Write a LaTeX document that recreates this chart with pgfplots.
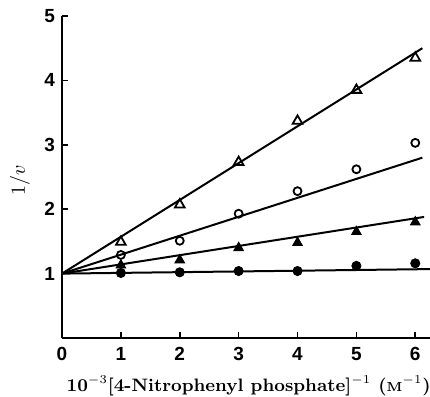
\documentclass[border=0pt]{standalone}
\usepackage{fontspec}
\setsansfont{Liberation Sans}
\usepackage{pgfplots}
\pgfplotsset{compat=1.18}
\begin{document}
\begin{tikzpicture}
\begin{axis}[
  scale only axis,
  width=184pt, height=161pt,
  xmin=0, xmax=6.25, ymin=0, ymax=5,
  axis x line=bottom, axis y line=left,
  axis line style={-, line width=1pt},
  tick align=inside,
  major tick length=3pt,
  tick style={line width=0.8pt, black},
  xtick={0,1,2,3,4,5,6},
  ytick={1,2,3,4,5},
  /pgf/number format/assume math mode=true,
  ticklabel style={font=\sffamily\bfseries\fontsize{9.5}{11}\selectfont},
  xticklabel style={yshift=-1pt},
  clip=false,
]
% fitted lines
\addplot[black, line width=1pt] coordinates {(0,1) (6.12,4.50)};
\addplot[black, line width=1pt] coordinates {(0,1) (6.12,2.80)};
\addplot[black, line width=1pt] coordinates {(0,1) (6.15,1.88)};
\addplot[black, line width=1pt] coordinates {(0,1) (6.25,1.07)};
% data
\addplot[only marks, mark=triangle, mark size=2.8pt, mark options={line width=0.9pt}] coordinates {(1,1.49) (2,2.07) (3,2.73) (4,3.37) (5,3.85) (6,4.35)};
\addplot[only marks, mark=o, mark size=2pt, mark options={line width=0.9pt}] coordinates {(1,1.29) (2,1.51) (3,1.93) (4,2.28) (5,2.62) (6,3.03)};
\addplot[only marks, mark=triangle*, mark size=2.8pt] coordinates {(1,1.13) (2,1.21) (3,1.40) (4,1.48) (5,1.65) (6,1.80)};
\addplot[only marks, mark=*, mark size=2.3pt] coordinates {(1,1.01) (2,1.02) (3,1.04) (4,1.04) (5,1.12) (6,1.16)};
\end{axis}
\node[rotate=90] at ([xshift=-21pt]current axis.south west |- 0,2.45*32.2pt) {$1/v$};
\node at (3.17*29.44pt, -24pt) {\bfseries\fontsize{9}{10}\selectfont 10$^{-3}$[4-Nitrophenyl phosphate]$^{-1}$ ({\fontsize{6.5}{7}\selectfont M}$^{-1}$)};
\pgfresetboundingbox
\path (current axis.south west) ++(-31pt,-29.5pt) rectangle ++(215pt,198.5pt);
\end{tikzpicture}
\end{document}
